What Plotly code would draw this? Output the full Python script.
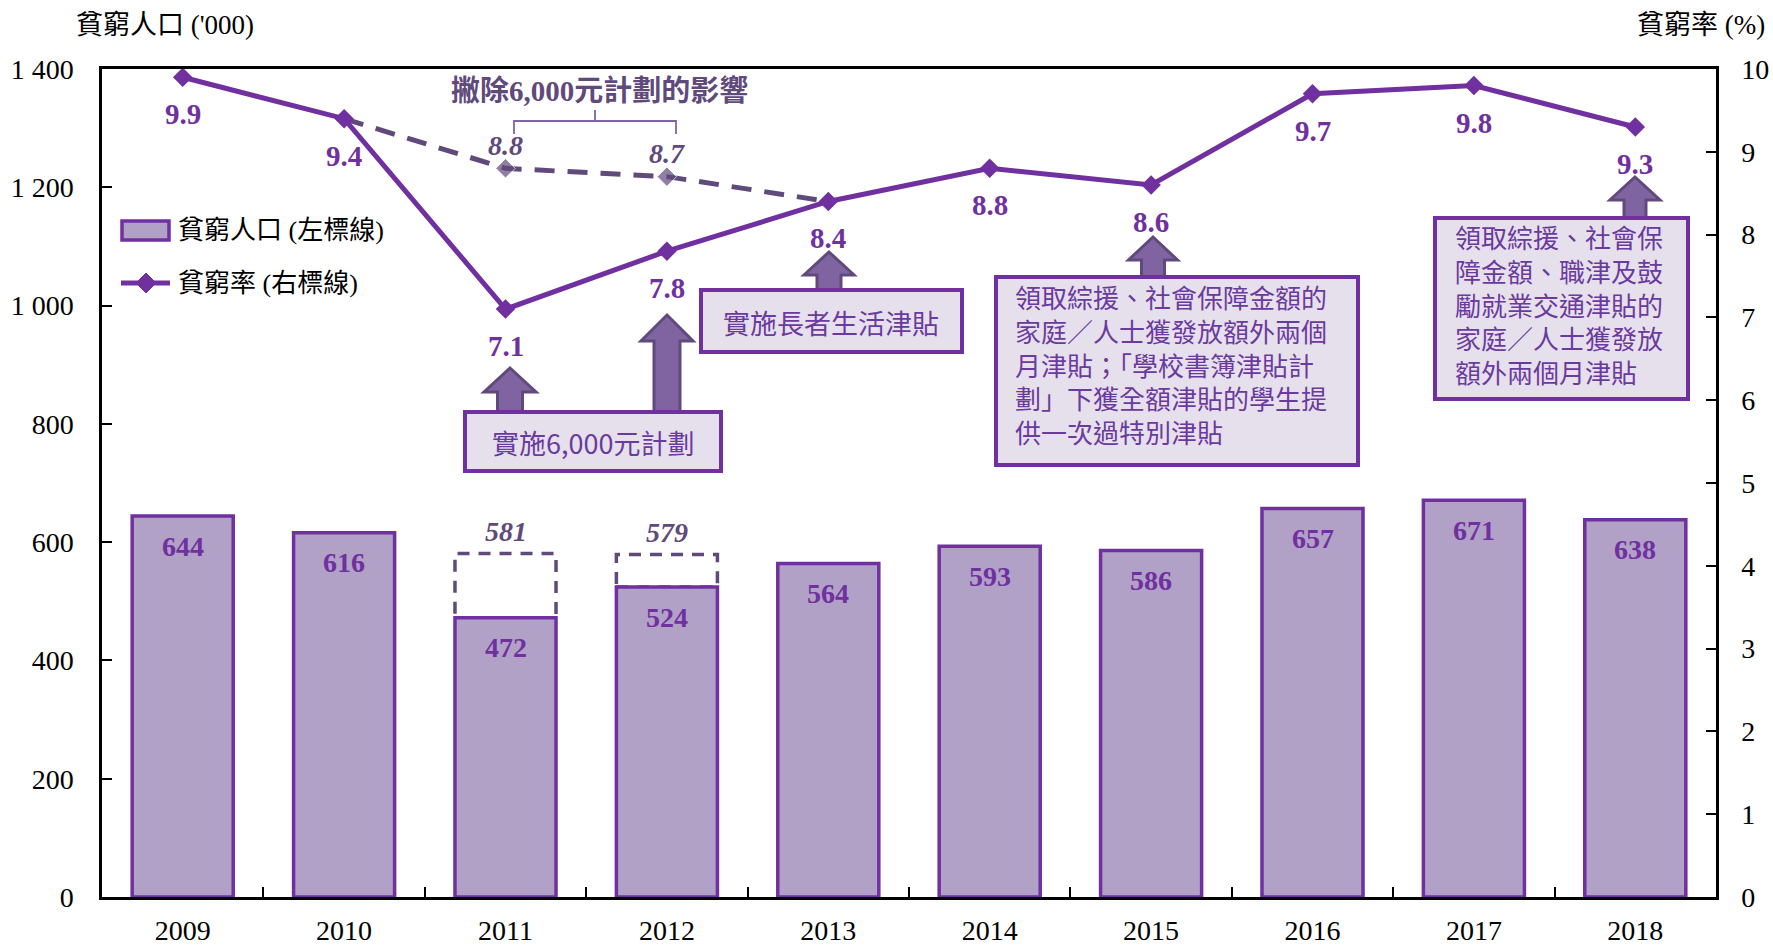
import plotly.graph_objects as go

# ---------------- data ----------------
years = ['2009', '2010', '2011', '2012', '2013', '2014', '2015', '2016', '2017', '2018']
poor_population = [644, 616, 472, 524, 564, 593, 586, 657, 671, 638]
poverty_rate = [9.9, 9.4, 7.1, 7.8, 8.4, 8.8, 8.6, 9.7, 9.8, 9.3]

excl_rate_years = ['2010', '2011', '2012', '2013']
excl_rate = [9.4, 8.8, 8.7, 8.4]
excl_rate_marked = [False, True, True, False]
excl_pop_years = ['2011', '2012']
excl_population = [581, 579]

left_tickvals = [0, 200, 400, 600, 800, 1000, 1200, 1400]
left_ticktext = ['0', '200', '400', '600', '800', '1 000', '1 200', '1 400']
right_tickvals = [0, 1, 2, 3, 4, 5, 6, 7, 8, 9, 10]

left_title = "貧窮人口 ('000)"
right_title = '貧窮率 (%)'
legend_bar = '貧窮人口 (左標線)'
legend_line = '貧窮率 (右標線)'
bracket_text = '撇除6,000元計劃的影響'
box1_text = '實施6,000元計劃'
box2_text = '實施長者生活津貼'
box3_lines = ['領取綜援、社會保障金額的', '家庭／人士獲發放額外兩個', '月津貼；「學校書簿津貼計',
              '劃」下獲全額津貼的學生提', '供一次過特別津貼']
box4_lines = ['領取綜援、社會保', '障金額、職津及鼓', '勵就業交通津貼的', '家庭／人士獲發放', '額外兩個月津貼']

# ---------------- styles ----------------
W, H = 1773, 946
L, R, T, B = 102, 1716, 69, 897
PURPLE = '#7030A0'
DARK = '#604A7B'
BAR_FILL = '#B1A1C7'
BOX_FILL = '#E6E0EC'
ARROW_FILL = '#8064A2'
TXT_PURPLE = '#6B3A9E'
SERIF = 'Liberation Serif'
CJK = 'Noto Sans CJK TC'
MIXED = 'Liberation Serif, Noto Sans CJK TC'
BARGAP = 0.374


def px(x):
    return (x - L) / (R - L)


def py(y):
    return (B - y) / (B - T)


def paper_text(x, y, text, size, color, family, xanchor='center'):
    return dict(x=px(x), y=py(y), xref='paper', yref='paper', text=text, showarrow=False,
                xanchor=xanchor, yanchor='middle', align=xanchor if xanchor != 'center' else 'center',
                font=dict(family=family, size=size, color=color))


fig = go.Figure()

fig.add_trace(go.Bar(
    x=years, y=poor_population, yaxis='y',
    marker=dict(color=BAR_FILL, line=dict(color=PURPLE, width=3.5)),
    showlegend=False, hoverinfo='x+y'))

fig.add_trace(go.Scatter(
    x=excl_rate_years, y=excl_rate, yaxis='y2', mode='lines+markers',
    line=dict(color=DARK, width=5, dash='20px,13px'),
    marker=dict(symbol='diamond', size=[15 if m else 0 for m in excl_rate_marked], color=DARK),
    showlegend=False))

fig.add_trace(go.Scatter(
    x=years, y=poverty_rate, yaxis='y2', mode='lines+markers',
    line=dict(color=PURPLE, width=5),
    marker=dict(symbol='diamond', size=15, color=PURPLE),
    showlegend=False))

annotations = []
shapes = []

# bar value labels (category axes take the category index in annotations)
for i, v in enumerate(poor_population):
    annotations.append(dict(x=i, y=v, xref='x', yref='y', text=f'<b>{v}</b>', showarrow=False,
                            xanchor='center', yanchor='middle', yshift=-30,
                            font=dict(family=SERIF, size=28, color=PURPLE)))
# rate labels
for i, v in enumerate(poverty_rate):
    annotations.append(dict(x=i, y=v, xref='x', yref='y2', text=f'<b>{v:.1f}</b>', showarrow=False,
                            xanchor='center', yanchor='middle', yshift=-37,
                            font=dict(family=SERIF, size=29, color=PURPLE)))
# excluding-scheme rate labels
for yr, v, m in zip(excl_rate_years, excl_rate, excl_rate_marked):
    if m:
        annotations.append(dict(x=years.index(yr), y=v, xref='x', yref='y2', text=f'<b><i>{v:.1f}</i></b>',
                                showarrow=False, xanchor='center', yanchor='middle', yshift=23,
                                font=dict(family=SERIF, size=28, color=DARK)))
# excluding-scheme population boxes and labels
half = (1 - BARGAP) / 2
for yr, v in zip(excl_pop_years, excl_population):
    i = years.index(yr)
    actual = poor_population[i]
    shapes.append(dict(type='rect', xref='x', yref='y', x0=i - half, x1=i + half, y0=actual, y1=v,
                       line=dict(color=DARK, width=3.5, dash='12px,9px'), fillcolor='rgba(0,0,0,0)',
                       layer='below'))
    annotations.append(dict(x=i, y=v, xref='x', yref='y', text=f'<b><i>{v}</i></b>', showarrow=False,
                            xanchor='center', yanchor='middle', yshift=22,
                            font=dict(family=SERIF, size=28, color=DARK)))


# arrows (block arrows)
def arrow(cx, tip, base, bottom, hw, sw):
    pts = [(cx, tip), (cx + hw, base), (cx + sw, base), (cx + sw, bottom), (cx - sw, bottom),
           (cx - sw, base), (cx - hw, base)]
    path = 'M ' + ' L '.join(f'{px(a):.5f},{py(b):.5f}' for a, b in pts) + ' Z'
    return dict(type='path', xref='paper', yref='paper', path=path, fillcolor=ARROW_FILL,
                line=dict(color=DARK, width=3))


shapes += [
    arrow(510, 368, 392, 414, 26, 12.5),
    arrow(667, 315, 341, 414, 26, 13),
    arrow(829, 252, 275, 292, 25, 12),
    arrow(1153, 237, 260, 279, 24.5, 11.5),
    arrow(1635, 177, 200, 220, 25, 11),
]


def box(x0, y0, x1, y1):
    return dict(type='rect', xref='paper', yref='paper', x0=px(x0), x1=px(x1), y0=py(y1), y1=py(y0),
                fillcolor=BOX_FILL, line=dict(color=PURPLE, width=4))


shapes += [box(465, 412, 721, 471), box(701, 290, 962, 352), box(996, 277, 1358, 465),
           box(1435, 218, 1688, 399)]

annotations.append(paper_text(593, 442, box1_text, 27, TXT_PURPLE, CJK))
annotations.append(paper_text(831, 322, box2_text, 27, TXT_PURPLE, CJK))
annotations.append(paper_text(1013, 364, '<br>'.join(box3_lines), 26, TXT_PURPLE, CJK, xanchor='left'))
annotations.append(paper_text(1453, 304, '<br>'.join(box4_lines), 26, TXT_PURPLE, CJK, xanchor='left'))

# bracket
bpath = (f'M {px(514)},{py(134)} L {px(514)},{py(121)} L {px(676)},{py(121)} L {px(676)},{py(134)} '
         f'M {px(595)},{py(121)} L {px(595)},{py(110)}')
shapes.append(dict(type='path', xref='paper', yref='paper', path=bpath, line=dict(color=ARROW_FILL, width=1.8)))
annotations.append(paper_text(599, 91, f'<b>{bracket_text}</b>', 29, DARK, MIXED))

# axis titles
annotations.append(paper_text(165, 25, left_title, 27, 'black', MIXED))
annotations.append(paper_text(1701, 25, right_title, 27, 'black', MIXED))

# custom legend
shapes.append(dict(type='rect', xref='paper', yref='paper', x0=px(122), x1=px(169), y0=py(240), y1=py(221),
                   fillcolor=BAR_FILL, line=dict(color=PURPLE, width=3.5)))
shapes.append(dict(type='line', xref='paper', yref='paper', x0=px(121), x1=px(170), y0=py(283), y1=py(283),
                   line=dict(color=PURPLE, width=5)))
dpath = (f'M {px(146)},{py(273)} L {px(156)},{py(283)} L {px(146)},{py(293)} L {px(136)},{py(283)} Z')
shapes.append(dict(type='path', xref='paper', yref='paper', path=dpath, fillcolor=PURPLE,
                   line=dict(color=PURPLE, width=1)))
annotations.append(paper_text(176, 231, legend_bar, 26, 'black', MIXED, xanchor='left'))
annotations.append(paper_text(176, 283, legend_line, 26, 'black', MIXED, xanchor='left'))

fig.update_layout(
    width=W, height=H, autosize=False,
    margin=dict(l=L, r=W - R, t=T, b=H - B, pad=0, autoexpand=False),
    paper_bgcolor='white', plot_bgcolor='white',
    bargap=BARGAP,
    showlegend=False,
    xaxis=dict(type='category', categoryorder='array', categoryarray=years, range=[-0.5, 9.5],
               showline=True, linecolor='black', linewidth=2.5, mirror=True, automargin=False,
               ticks='inside', tickson='boundaries', ticklen=10, tickwidth=2, tickcolor='black',
               showgrid=False, zeroline=False,
               tickfont=dict(family=SERIF, size=28, color='black'), ticklabelstandoff=7),
    yaxis=dict(range=[0, 1400], tickvals=left_tickvals, ticktext=left_ticktext, automargin=False,
               showline=True, linecolor='black', linewidth=2.5,
               ticks='inside', ticklen=10, tickwidth=2, tickcolor='black',
               showgrid=False, zeroline=False,
               tickfont=dict(family=SERIF, size=28, color='black'), ticklabelstandoff=20),
    yaxis2=dict(range=[0, 10], tickvals=right_tickvals, overlaying='y', side='right', automargin=False,
                showline=True, linecolor='black', linewidth=2.5,
                ticks='inside', ticklen=10, tickwidth=2, tickcolor='black',
                showgrid=False, zeroline=False,
                tickfont=dict(family=SERIF, size=28, color='black'), ticklabelstandoff=17),
    annotations=annotations,
    shapes=shapes,
)

fig.write_html('out.html')
